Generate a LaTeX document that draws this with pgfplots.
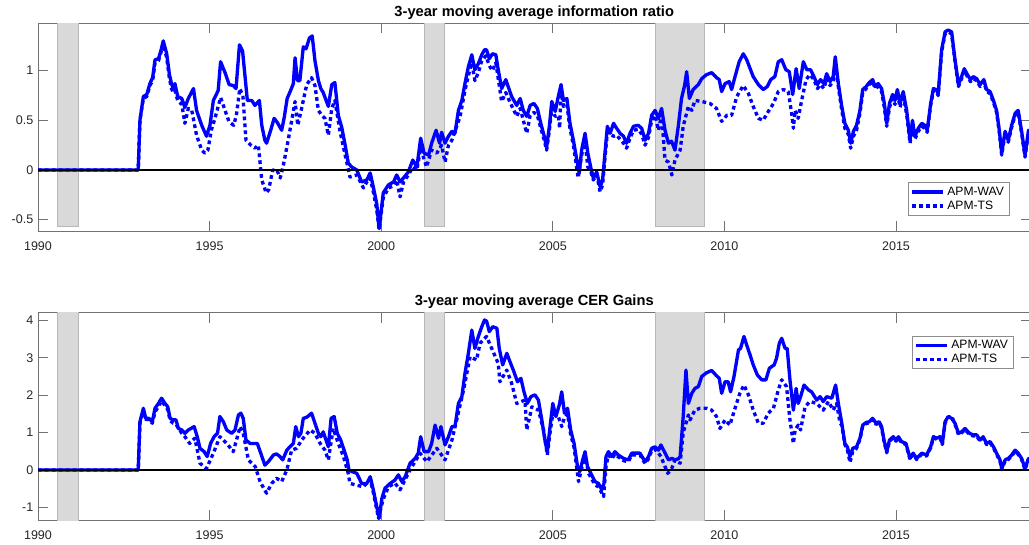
\documentclass[border=0pt]{standalone}
\usepackage{pgfplots}
\pgfplotsset{compat=1.18}
\usepackage{fontspec}
\setmainfont{Liberation Sans}
\definecolor{shade}{gray}{0.85}
\definecolor{shadeedge}{gray}{0.72}
\definecolor{axgray}{gray}{0.45}
\definecolor{txtgray}{gray}{0.15}
\pgfplotsset{
  every axis title shift=0pt,
  myax/.style={
    scale only axis,
    width=744.4pt,
    xmin=1990, xmax=2018.92,
    xtick={1990,1995,2000,2005,2010,2015},
    xticklabels={1990,1995,2000,2005,2010,2015},
    tick align=inside,
    major tick length=7.5pt,
    axis line style={axgray, line width=0.6pt},
    every tick/.style={axgray, line width=0.5pt},
    ticklabel style={font=\fontsize{9.4}{11}\selectfont, text=txtgray},
    xticklabel style={yshift=-4.2pt},
    title style={font=\bfseries\fontsize{11}{13}\selectfont, text=black, at={(0.5,1)}, anchor=base, yshift=5.25pt},
    legend style={font=\fontsize{9.1}{11}\selectfont, draw=black!45, line width=0.6pt, fill=white,
      inner xsep=2pt, inner ysep=1pt, row sep=-1.2pt, cells={anchor=west}},
    legend image code/.code={\draw[#1] (0pt,0pt) -- (23pt,0pt);},
  },
  wav/.style={blue, line width=2.5pt, line join=round},
  ts/.style={blue, line width=2.5pt, line join=round, dash pattern=on 2.8pt off 2.4pt},
}
\begin{document}
\begin{tikzpicture}
\useasboundingbox (0,0) rectangle (771.75pt,408pt);
% ---------------- top axis ----------------
\begin{axis}[myax,
  at={(28.5pt,234.75pt)}, anchor=south west,
  height=156pt,
  ymin=-0.614, ymax=1.48,
  ytick={-0.5,0,0.5,1},
  yticklabels={-0.5,0,0.5,1},
  title={3-year moving average information ratio},
  legend style={at={(rel axis cs:0.979,0.234)}, anchor=north east},
]
\addplot[fill=shade, draw=shadeedge, line width=0.75pt, forget plot] coordinates {(1990.58,-0.57) (1991.17,-0.57) (1991.17,1.6) (1990.58,1.6)} -- cycle;
\addplot[fill=shade, draw=shadeedge, line width=0.75pt, forget plot] coordinates {(2001.25,-0.57) (2001.84,-0.57) (2001.84,1.6) (2001.25,1.6)} -- cycle;
\addplot[fill=shade, draw=shadeedge, line width=0.75pt, forget plot] coordinates {(2008.0,-0.57) (2009.43,-0.57) (2009.43,1.6) (2008.0,1.6)} -- cycle;
\addplot[wav] table {
x y
1990.00 0
1992.92 0
1992.97 0.50
1993.07 0.74
1993.17 0.76
1993.26 0.87
1993.34 0.93
1993.41 1.11
1993.51 1.12
1993.58 1.20
1993.65 1.30
1993.75 1.17
1993.83 0.96
1993.89 0.87
1993.94 0.82
1993.99 0.87
1994.07 0.74
1994.19 0.72
1994.28 0.63
1994.38 0.72
1994.53 0.82
1994.62 0.60
1994.77 0.45
1994.91 0.34
1995.01 0.45
1995.11 0.70
1995.25 0.80
1995.32 1.09
1995.45 0.98
1995.57 0.86
1995.69 0.85
1995.77 0.82
1995.87 1.26
1995.96 1.20
1996.03 0.95
1996.10 0.70
1996.23 0.70
1996.32 0.65
1996.45 0.70
1996.52 0.45
1996.61 0.30
1996.66 0.27
1996.78 0.40
1996.88 0.52
1996.97 0.48
1997.10 0.40
1997.17 0.52
1997.26 0.72
1997.36 0.80
1997.44 0.87
1997.49 1.13
1997.56 0.90
1997.63 0.90
1997.73 1.24
1997.81 1.22
1997.91 1.33
1997.99 1.35
1998.07 1.10
1998.17 0.90
1998.24 0.82
1998.31 0.78
1998.46 0.64
1998.56 0.86
1998.65 0.88
1998.75 0.55
1998.85 0.43
1998.95 0.25
1999.04 0.07
1999.14 0.03
1999.29 0.00
1999.43 -0.12
1999.58 -0.10
1999.68 -0.03
1999.77 -0.17
1999.87 -0.34
1999.94 -0.59
2000.06 -0.23
2000.21 -0.15
2000.36 -0.12
2000.45 -0.05
2000.55 -0.12
2000.65 -0.08
2000.79 -0.02
2000.92 0.10
2001.04 0.03
2001.15 0.32
2001.25 0.17
2001.38 0.15
2001.47 0.27
2001.60 0.40
2001.70 0.27
2001.76 0.38
2001.86 0.27
2001.96 0.34
2002.06 0.39
2002.15 0.37
2002.25 0.60
2002.35 0.70
2002.44 0.87
2002.54 1.04
2002.64 1.16
2002.73 1.01
2002.83 1.07
2002.93 1.16
2003.01 1.21
2003.07 1.21
2003.15 1.12
2003.24 1.17
2003.34 1.16
2003.41 1.01
2003.51 0.82
2003.63 0.91
2003.73 0.81
2003.80 0.74
2003.95 0.65
2004.05 0.72
2004.14 0.60
2004.24 0.54
2004.34 0.65
2004.45 0.67
2004.55 0.62
2004.65 0.47
2004.75 0.34
2004.82 0.23
2004.90 0.44
2004.97 0.69
2005.07 0.59
2005.16 0.74
2005.24 0.86
2005.31 0.70
2005.41 0.72
2005.50 0.47
2005.60 0.30
2005.70 0.10
2005.77 -0.03
2005.84 0.20
2005.94 0.37
2006.02 0.17
2006.11 0.02
2006.18 -0.08
2006.28 -0.02
2006.38 -0.17
2006.45 -0.10
2006.52 0.17
2006.59 0.44
2006.67 0.37
2006.77 0.47
2006.86 0.42
2006.96 0.37
2007.06 0.34
2007.15 0.27
2007.25 0.37
2007.35 0.44
2007.49 0.45
2007.59 0.42
2007.69 0.30
2007.79 0.37
2007.88 0.55
2007.98 0.60
2008.08 0.52
2008.17 0.62
2008.27 0.40
2008.37 0.27
2008.46 0.29
2008.56 0.20
2008.66 0.45
2008.75 0.72
2008.84 0.85
2008.90 0.99
2008.98 0.72
2009.09 0.81
2009.24 0.86
2009.34 0.92
2009.48 0.96
2009.63 0.98
2009.77 0.93
2009.85 0.91
2009.92 0.79
2010.02 0.87
2010.14 0.89
2010.21 0.81
2010.31 0.94
2010.43 1.09
2010.55 1.17
2010.65 1.11
2010.75 1.02
2010.84 0.94
2010.99 0.86
2011.13 0.81
2011.25 0.84
2011.35 0.91
2011.47 0.94
2011.57 1.09
2011.67 1.11
2011.79 1.01
2011.89 0.99
2011.99 0.76
2012.09 1.02
2012.18 0.82
2012.30 1.09
2012.40 1.01
2012.51 1.01
2012.61 0.94
2012.71 0.86
2012.80 0.91
2012.90 0.87
2012.98 0.97
2013.08 0.89
2013.17 0.94
2013.23 1.14
2013.32 0.87
2013.42 0.64
2013.51 0.47
2013.61 0.40
2013.68 0.27
2013.76 0.39
2013.85 0.45
2013.95 0.60
2014.03 0.81
2014.13 0.84
2014.22 0.88
2014.32 0.91
2014.39 0.84
2014.48 0.87
2014.58 0.82
2014.66 0.67
2014.73 0.47
2014.81 0.67
2014.90 0.76
2014.97 0.70
2015.04 0.81
2015.12 0.67
2015.21 0.79
2015.31 0.60
2015.41 0.30
2015.48 0.50
2015.55 0.34
2015.65 0.42
2015.75 0.47
2015.84 0.45
2015.91 0.40
2016.01 0.67
2016.09 0.82
2016.17 0.81
2016.23 0.77
2016.33 1.21
2016.43 1.39
2016.52 1.41
2016.62 1.39
2016.72 1.11
2016.82 0.86
2016.91 0.94
2016.99 1.02
2017.08 0.96
2017.17 0.91
2017.25 0.94
2017.35 0.92
2017.45 0.86
2017.56 0.91
2017.64 0.81
2017.74 0.79
2017.84 0.70
2017.93 0.60
2018.01 0.40
2018.08 0.17
2018.18 0.39
2018.27 0.30
2018.37 0.45
2018.47 0.57
2018.56 0.60
2018.66 0.39
2018.76 0.15
2018.86 0.40
2018.92 0.38
};
\addlegendentry{APM-WAV}
\addplot[ts] table {
x y
1990.00 0
1992.92 0
1992.97 0.50
1993.07 0.72
1993.17 0.74
1993.26 0.85
1993.34 0.90
1993.41 1.08
1993.51 1.10
1993.58 1.18
1993.65 1.27
1993.75 1.13
1993.83 0.92
1993.89 0.82
1993.94 0.78
1993.99 0.80
1994.07 0.70
1994.19 0.66
1994.28 0.47
1994.38 0.62
1994.48 0.60
1994.62 0.35
1994.77 0.20
1994.86 0.17
1994.95 0.20
1995.05 0.40
1995.18 0.55
1995.32 0.73
1995.45 0.60
1995.56 0.49
1995.70 0.45
1995.78 0.55
1995.88 0.82
1995.97 0.75
1996.06 0.30
1996.20 0.25
1996.32 0.22
1996.42 0.25
1996.52 -0.10
1996.65 -0.23
1996.72 -0.20
1996.84 0.00
1996.96 0.00
1997.06 -0.08
1997.15 0.05
1997.29 0.30
1997.49 0.69
1997.57 0.45
1997.68 0.62
1997.83 0.86
1997.97 0.93
1998.07 0.85
1998.17 0.60
1998.27 0.55
1998.36 0.52
1998.46 0.35
1998.56 0.62
1998.65 0.70
1998.80 0.39
1998.95 0.15
1999.09 -0.07
1999.29 -0.05
1999.48 -0.18
1999.58 -0.12
1999.68 -0.08
1999.77 -0.22
1999.87 -0.40
1999.94 -0.60
2000.06 -0.28
2000.21 -0.18
2000.36 -0.16
2000.45 -0.10
2000.55 -0.27
2000.65 -0.12
2000.79 -0.05
2000.92 0.03
2001.04 0.00
2001.15 0.22
2001.32 0.03
2001.47 0.20
2001.62 0.17
2001.76 0.25
2001.86 0.08
2001.96 0.25
2002.06 0.30
2002.30 0.54
2002.44 0.80
2002.54 0.95
2002.64 1.08
2002.73 0.90
2002.83 0.98
2002.93 1.10
2003.05 1.15
2003.15 1.05
2003.24 1.00
2003.34 1.08
2003.41 0.92
2003.51 0.69
2003.63 0.78
2003.73 0.70
2003.95 0.54
2004.05 0.62
2004.24 0.37
2004.34 0.55
2004.45 0.58
2004.55 0.55
2004.65 0.42
2004.75 0.30
2004.82 0.20
2004.90 0.40
2004.97 0.62
2005.07 0.54
2005.16 0.55
2005.20 0.42
2005.24 0.80
2005.31 0.64
2005.41 0.66
2005.50 0.42
2005.60 0.25
2005.74 -0.08
2005.84 0.15
2005.94 0.30
2006.02 0.03
2006.11 -0.02
2006.18 -0.10
2006.28 -0.05
2006.38 -0.22
2006.45 -0.15
2006.52 0.12
2006.59 0.38
2006.77 0.34
2006.86 0.35
2007.06 0.27
2007.15 0.22
2007.25 0.32
2007.35 0.40
2007.49 0.41
2007.59 0.36
2007.69 0.25
2007.79 0.33
2007.88 0.50
2007.98 0.55
2008.08 0.40
2008.17 0.56
2008.27 0.10
2008.37 0.08
2008.47 -0.05
2008.56 0.10
2008.71 0.20
2008.80 0.44
2008.95 0.64
2009.05 0.60
2009.14 0.70
2009.34 0.69
2009.58 0.67
2009.77 0.62
2009.92 0.49
2010.07 0.55
2010.21 0.55
2010.36 0.74
2010.55 0.85
2010.70 0.77
2010.84 0.64
2010.99 0.52
2011.13 0.50
2011.28 0.59
2011.43 0.67
2011.57 0.79
2011.72 0.81
2011.86 0.79
2011.96 0.57
2012.01 0.42
2012.06 0.60
2012.15 0.52
2012.25 0.70
2012.38 0.91
2012.49 0.96
2012.61 0.91
2012.71 0.82
2012.80 0.86
2012.90 0.82
2012.98 0.92
2013.08 0.85
2013.17 0.90
2013.23 1.05
2013.32 0.84
2013.42 0.60
2013.51 0.42
2013.61 0.36
2013.68 0.22
2013.76 0.34
2013.85 0.40
2013.95 0.57
2014.03 0.78
2014.13 0.82
2014.22 0.86
2014.32 0.89
2014.39 0.82
2014.48 0.84
2014.58 0.79
2014.66 0.63
2014.73 0.44
2014.81 0.63
2014.90 0.72
2014.97 0.66
2015.04 0.77
2015.12 0.63
2015.21 0.76
2015.31 0.56
2015.41 0.27
2015.48 0.46
2015.55 0.31
2015.65 0.39
2015.75 0.44
2015.84 0.42
2015.91 0.38
2016.01 0.65
2016.09 0.80
2016.17 0.79
2016.23 0.75
2016.33 1.19
2016.43 1.37
2016.52 1.39
2016.62 1.37
2016.72 1.09
2016.82 0.84
2016.91 0.92
2016.99 1.00
2017.08 0.94
2017.17 0.89
2017.25 0.92
2017.35 0.90
2017.45 0.84
2017.56 0.89
2017.64 0.79
2017.74 0.77
2017.84 0.68
2017.93 0.58
2018.01 0.38
2018.08 0.15
2018.18 0.37
2018.27 0.28
2018.37 0.43
2018.47 0.55
2018.56 0.58
2018.66 0.37
2018.76 0.13
2018.86 0.38
2018.92 0.36
};
\addlegendentry{APM-TS}
\addplot[black, line width=0.8pt, forget plot] coordinates {(1985,0) (2025,0)};
\end{axis}
% ---------------- bottom axis ----------------
\begin{axis}[myax,
  at={(28.5pt,18pt)}, anchor=south west,
  height=155.5pt,
  ymin=-1.337, ymax=4.206,
  ytick={-1,0,1,2,3,4},
  yticklabels={-1,0,1,2,3,4},
  title={3-year moving average CER Gains},
  legend style={at={(rel axis cs:0.983,0.888)}, anchor=north east},
]
\addplot[fill=shade, draw=shadeedge, line width=0.75pt, forget plot] coordinates {(1990.58,-1.5) (1991.17,-1.5) (1991.17,4.5) (1990.58,4.5)} -- cycle;
\addplot[fill=shade, draw=shadeedge, line width=0.75pt, forget plot] coordinates {(2001.25,-1.5) (2001.84,-1.5) (2001.84,4.5) (2001.25,4.5)} -- cycle;
\addplot[fill=shade, draw=shadeedge, line width=0.75pt, forget plot] coordinates {(2008.0,-1.5) (2009.43,-1.5) (2009.43,4.5) (2008.0,4.5)} -- cycle;
\addplot[wav] table {
x y
1990.00 0
1992.92 0
1992.97 1.29
1993.07 1.65
1993.14 1.38
1993.23 1.38
1993.33 1.29
1993.41 1.65
1993.51 1.78
1993.60 1.92
1993.70 1.78
1993.78 1.69
1993.85 1.38
1993.94 1.34
1994.02 1.34
1994.09 1.11
1994.19 1.07
1994.28 0.98
1994.38 1.07
1994.55 1.16
1994.64 0.89
1994.72 0.58
1994.84 0.49
1994.93 0.36
1995.03 0.71
1995.13 0.89
1995.23 0.98
1995.30 1.43
1995.40 1.29
1995.50 1.07
1995.64 0.98
1995.74 1.07
1995.84 1.47
1995.91 1.52
1995.98 1.38
1996.06 0.80
1996.18 0.71
1996.29 0.71
1996.39 0.71
1996.49 0.45
1996.61 0.13
1996.71 0.22
1996.86 0.40
1996.95 0.43
1997.05 0.36
1997.13 0.27
1997.25 0.53
1997.34 0.62
1997.44 0.71
1997.51 1.16
1997.59 0.89
1997.66 0.98
1997.73 1.38
1997.83 1.41
1997.91 1.47
1997.97 1.52
1998.07 1.25
1998.17 0.98
1998.24 0.89
1998.31 1.02
1998.46 0.62
1998.54 1.38
1998.63 1.43
1998.72 0.98
1998.82 0.80
1998.92 0.53
1999.01 0.27
1999.06 0.00
1999.14 -0.04
1999.29 -0.09
1999.43 -0.36
1999.58 -0.36
1999.68 -0.18
1999.77 -0.53
1999.87 -0.98
1999.94 -1.29
2000.02 -0.76
2000.11 -0.49
2000.26 -0.36
2000.40 -0.27
2000.50 -0.13
2000.60 -0.31
2000.70 -0.18
2000.84 0.18
2000.99 0.31
2001.08 0.45
2001.15 0.89
2001.25 0.49
2001.38 0.49
2001.47 0.71
2001.57 1.20
2001.67 0.85
2001.74 1.16
2001.86 0.67
2001.96 0.89
2002.06 1.16
2002.15 1.16
2002.25 1.78
2002.35 1.96
2002.44 2.58
2002.54 3.12
2002.64 3.74
2002.73 3.25
2002.83 3.57
2002.93 3.83
2003.01 4.01
2003.07 3.98
2003.15 3.70
2003.25 3.83
2003.37 3.79
2003.44 3.25
2003.54 2.81
2003.66 3.12
2003.75 2.90
2003.85 2.67
2003.97 2.36
2004.07 2.45
2004.16 2.09
2004.26 1.78
2004.36 1.96
2004.48 2.01
2004.58 1.87
2004.68 1.34
2004.77 0.80
2004.84 0.49
2004.92 1.16
2005.00 1.78
2005.09 1.43
2005.19 1.74
2005.26 2.09
2005.34 1.52
2005.43 1.65
2005.52 1.07
2005.62 0.71
2005.72 0.09
2005.79 -0.04
2005.87 0.27
2005.94 0.49
2006.01 0.09
2006.11 -0.09
2006.23 -0.31
2006.33 -0.36
2006.43 -0.53
2006.49 -0.36
2006.55 0.36
2006.62 0.49
2006.72 0.36
2006.81 0.49
2006.91 0.40
2007.06 0.31
2007.20 0.27
2007.30 0.45
2007.45 0.45
2007.54 0.45
2007.69 0.22
2007.79 0.36
2007.88 0.58
2007.98 0.62
2008.08 0.53
2008.15 0.67
2008.25 0.49
2008.37 0.27
2008.47 0.31
2008.56 0.27
2008.66 0.30
2008.71 0.36
2008.80 1.43
2008.88 2.67
2008.95 1.78
2009.05 2.05
2009.14 2.18
2009.24 2.23
2009.34 2.50
2009.48 2.60
2009.63 2.66
2009.75 2.54
2009.85 2.45
2009.92 2.05
2010.02 2.36
2010.11 2.36
2010.18 2.09
2010.28 2.50
2010.41 3.21
2010.47 3.25
2010.57 3.57
2010.65 3.34
2010.75 3.07
2010.84 2.81
2010.96 2.54
2011.09 2.41
2011.21 2.41
2011.31 2.72
2011.45 2.81
2011.52 2.99
2011.60 3.39
2011.67 3.52
2011.77 3.25
2011.83 3.25
2011.91 2.41
2012.01 1.60
2012.09 2.18
2012.15 1.78
2012.22 1.96
2012.32 2.27
2012.45 2.14
2012.54 2.09
2012.69 1.87
2012.79 1.96
2012.88 1.83
2012.98 1.96
2013.13 1.92
2013.24 2.27
2013.32 1.78
2013.42 1.25
2013.51 0.71
2013.58 0.62
2013.66 0.36
2013.74 0.58
2013.85 0.62
2013.95 0.85
2014.03 1.20
2014.13 1.27
2014.22 1.29
2014.32 1.38
2014.42 1.25
2014.51 1.29
2014.58 1.16
2014.65 0.80
2014.73 0.49
2014.81 0.80
2014.92 0.89
2015.00 0.80
2015.07 0.89
2015.16 0.76
2015.29 0.71
2015.41 0.31
2015.50 0.45
2015.60 0.31
2015.75 0.45
2015.89 0.40
2016.01 0.62
2016.09 0.89
2016.19 0.85
2016.28 0.89
2016.35 0.71
2016.43 1.29
2016.52 1.43
2016.62 1.38
2016.72 1.25
2016.82 0.98
2016.91 1.02
2017.01 1.11
2017.14 0.98
2017.25 0.94
2017.35 0.94
2017.45 0.80
2017.54 0.89
2017.64 0.71
2017.74 0.76
2017.84 0.62
2017.93 0.45
2018.03 0.27
2018.08 0.04
2018.18 0.27
2018.27 0.31
2018.37 0.40
2018.47 0.53
2018.56 0.45
2018.66 0.31
2018.76 0.04
2018.86 0.31
2018.92 0.30
};
\addlegendentry{APM-WAV}
\addplot[ts] table {
x y
1990.00 0
1992.92 0
1992.97 1.25
1993.07 1.55
1993.14 1.35
1993.23 1.35
1993.33 1.25
1993.41 1.55
1993.51 1.70
1993.60 1.85
1993.70 1.72
1993.78 1.62
1993.85 1.32
1993.94 1.25
1994.02 1.22
1994.19 0.98
1994.28 0.89
1994.42 0.71
1994.57 0.85
1994.72 0.18
1994.91 0.04
1995.11 0.45
1995.30 0.89
1995.50 0.71
1995.69 0.49
1995.89 1.16
1995.98 0.98
1996.13 0.27
1996.33 0.09
1996.47 -0.31
1996.66 -0.62
1996.81 -0.36
1996.95 -0.22
1997.10 -0.31
1997.25 0.00
1997.39 0.53
1997.54 0.58
1997.68 0.80
1997.93 1.07
1998.07 0.98
1998.22 0.71
1998.36 0.53
1998.46 0.27
1998.60 1.11
1998.75 0.71
1998.90 0.36
1999.04 -0.09
1999.09 -0.36
1999.48 -0.45
1999.68 -0.25
1999.77 -0.60
1999.92 -1.29
2000.05 -0.80
2000.21 -0.45
2000.40 -0.35
2000.55 -0.53
2000.70 -0.25
2000.84 0.00
2001.13 0.45
2001.33 0.22
2001.62 0.58
2001.86 0.27
2002.06 0.80
2002.20 1.34
2002.40 2.14
2002.59 3.03
2002.78 2.94
2002.88 3.39
2003.07 3.57
2003.22 3.25
2003.41 2.85
2003.46 2.36
2003.66 2.67
2003.80 2.32
2003.95 1.78
2004.19 1.87
2004.24 1.07
2004.39 1.69
2004.58 1.60
2004.73 1.07
2004.84 0.40
2004.92 1.00
2005.00 1.50
2005.16 1.43
2005.26 1.16
2005.34 1.40
2005.43 1.50
2005.52 0.95
2005.62 0.60
2005.75 -0.31
2005.87 0.15
2005.94 0.40
2006.04 -0.09
2006.11 -0.20
2006.23 -0.40
2006.33 -0.45
2006.43 -0.62
2006.48 -0.71
2006.55 0.09
2006.62 0.40
2006.72 0.30
2006.81 0.42
2006.91 0.35
2007.06 0.25
2007.20 0.22
2007.30 0.40
2007.45 0.40
2007.54 0.40
2007.69 0.17
2007.79 0.30
2007.88 0.52
2007.98 0.55
2008.08 0.45
2008.15 0.36
2008.35 -0.09
2008.47 0.05
2008.56 0.27
2008.71 0.18
2008.80 1.00
2008.95 1.47
2009.00 1.34
2009.14 1.60
2009.29 1.65
2009.48 1.65
2009.63 1.60
2009.77 1.43
2009.87 1.11
2010.02 1.34
2010.16 1.20
2010.31 1.65
2010.45 2.05
2010.57 2.27
2010.70 2.01
2010.84 1.60
2010.99 1.25
2011.13 1.25
2011.28 1.52
2011.43 1.65
2011.57 2.14
2011.67 2.41
2011.81 2.23
2011.91 1.34
2012.01 0.71
2012.06 1.07
2012.15 1.20
2012.22 1.07
2012.35 1.69
2012.49 1.83
2012.69 1.78
2012.88 1.60
2013.03 1.83
2013.17 1.60
2013.27 1.78
2013.37 1.25
2013.42 1.20
2013.51 0.68
2013.58 0.55
2013.66 0.20
2013.74 0.50
2013.85 0.58
2013.95 0.82
2014.03 1.17
2014.13 1.24
2014.22 1.26
2014.32 1.35
2014.42 1.22
2014.51 1.26
2014.58 1.13
2014.65 0.77
2014.73 0.46
2014.81 0.77
2014.92 0.86
2015.00 0.77
2015.07 0.86
2015.16 0.73
2015.29 0.68
2015.41 0.28
2015.50 0.42
2015.60 0.28
2015.75 0.42
2015.89 0.37
2016.01 0.59
2016.09 0.86
2016.19 0.82
2016.28 0.86
2016.35 0.68
2016.43 1.26
2016.52 1.40
2016.62 1.45
2016.72 1.22
2016.82 0.95
2016.91 0.99
2017.01 1.08
2017.14 0.95
2017.25 0.91
2017.35 0.91
2017.45 0.77
2017.54 0.86
2017.64 0.68
2017.74 0.73
2017.84 0.59
2017.93 0.42
2018.03 0.24
2018.08 0.01
2018.18 0.24
2018.27 0.28
2018.37 0.37
2018.47 0.50
2018.56 0.42
2018.66 0.28
2018.76 0.01
2018.86 0.28
2018.92 0.27
};
\addlegendentry{APM-TS}
\addplot[black, line width=0.8pt, forget plot] coordinates {(1985,0) (2025,0)};
\end{axis}
\end{tikzpicture}
\end{document}
